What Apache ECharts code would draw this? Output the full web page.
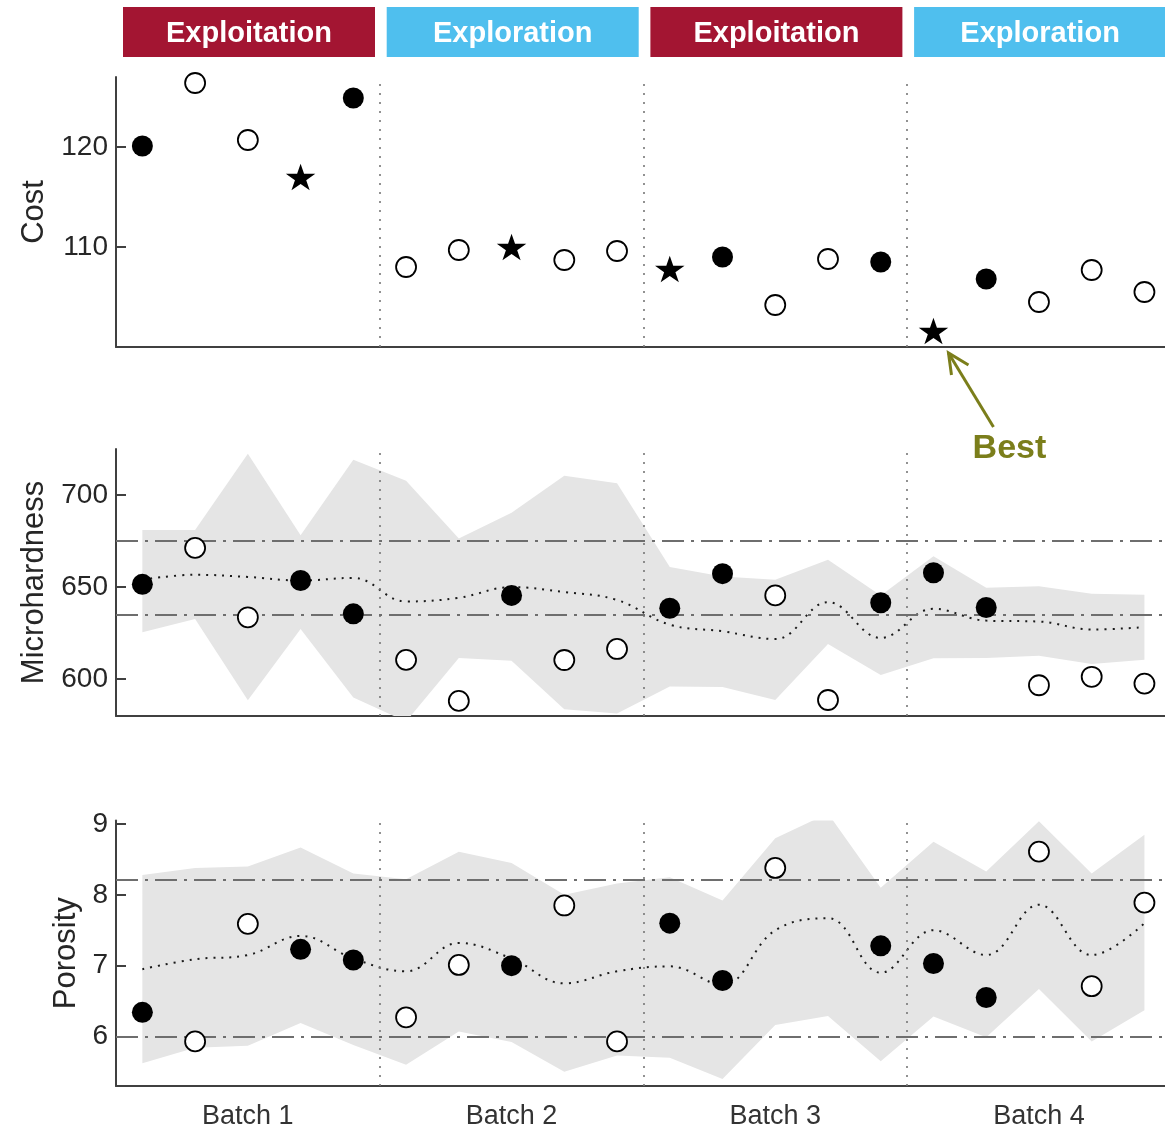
<!DOCTYPE html>
<html><head><meta charset="utf-8">
<script src="https://cdn.jsdelivr.net/npm/echarts@6/dist/echarts.min.js"></script>
<style>html,body{margin:0;padding:0;background:#fff}#c{width:1165px;height:1131px}</style>
</head><body><div id="c"></div>
<script>
// ---------- data ----------
const runIndex = [1,2,3,4,5,6,7,8,9,10,11,12,13,14,15,16,17,18,19,20];
// 'filled' = exploited candidate, 'open' = explored candidate, 'best' = best of batch (star on cost)
const pointKind = ['filled','open','open','best','filled','open','open','best','open','open',
                   'best','filled','open','open','filled','best','filled','open','open','open'];
const costValues = [120.1,126.4,120.7,117.0,124.9, 108.0,109.7,110.0,108.7,109.6,
                    107.8,109.0,104.2,108.8,108.5, 101.6,106.8,104.5,107.7,105.5];
const hardValues = [651.5,671.3,633.6,653.6,635.5, 610.5,588.2,645.5,610.4,616.4,
                    638.5,657.3,645.5,588.7,641.5, 657.8,638.9,596.7,601.3,597.6];
const hardMean  = [654.0,656.7,655.5,653.6,655.0, 642.2,644.2,650.0,647.3,643.0,
                   629.6,626.0,621.8,641.8,622.4, 638.2,631.8,631.3,627.0,628.2];
const hardUpper = [681.0,681.0,722.4,678.2,719.1, 707.8,676.4,690.4,710.5,706.4,
                   660.9,655.8,654.0,664.9,645.5, 666.7,649.6,650.4,646.4,645.8];
const hardLower = [625.5,632.7,588.5,627.3,590.0, 577.0,611.5,610.0,583.6,581.3,
                   596.0,595.8,588.7,619.1,602.2, 611.3,611.5,612.7,608.2,610.5];
const poroValues = [6.34,5.93,7.59,7.23,7.08, 6.27,7.01,7.00,7.85,5.93,
                    7.60,6.79,8.38,null,7.28, 7.03,6.55,8.61,6.71,7.89];
const poroMean  = [6.95,7.09,7.15,7.42,7.10, 6.92,7.32,7.10,6.75,6.92,
                   6.99,6.73,7.50,7.67,6.90, 7.50,7.15,7.86,7.15,7.60];
const poroUpper = [8.28,8.38,8.40,8.67,8.30, 8.22,8.61,8.45,8.00,8.16,
                   8.25,7.92,8.80,9.15,8.10, 8.75,8.33,9.04,8.30,8.85];
const poroLower = [5.62,5.84,5.87,6.19,5.88, 5.60,6.07,5.92,5.50,5.73,
                   5.70,5.40,6.16,6.29,5.65, 6.28,5.99,6.67,5.93,6.37];
const hardLimits = [635, 675];
const poroLimits = [6, 8.22];
const batchDividers = [5.5, 10.5, 15.5];
const batchCenters = [3, 8, 13, 18];
const batchLabels = ['Batch 1','Batch 2','Batch 3','Batch 4'];
const phaseLabels = ['Exploitation','Exploration','Exploitation','Exploration'];
const costTicks = [110, 120];
const hardTicks = [600, 650, 700];
const poroTicks = [6, 7, 8, 9];

// ---------- styling ----------
const FONT = '"Liberation Sans", Arial, Helvetica, sans-serif';
const AX = '#404040';
const TXT = '#262626';
const BAND = '#e5e5e5';
const RED = '#a31532';
const BLUE = '#4fbfee';
const OLIVE = '#7b7e1b';
const STAR = 'path://M0,-10 L2.245,-3.09 L9.511,-3.09 L3.633,1.18 L5.878,8.09 L0,3.82 L-5.878,8.09 L-3.633,1.18 L-9.511,-3.09 L-2.245,-3.09 Z';

const panels = [
  {top: 77,    height: 270,   min: 100, max: 127,  ticks: costTicks, name: 'Cost',         nameGap: 61},
  {top: 449,   height: 267,   min: 580, max: 725,  ticks: hardTicks, name: 'Microhardness', nameGap: 61},
  {top: 820.5, height: 265.5, min: 5.3, max: 9.05, ticks: poroTicks, name: 'Porosity',     nameGap: 31}
];

const grid = panels.map(p => ({left: 116, right: 0, top: p.top, height: p.height}));
const xAxis = panels.map((p, i) => ({
  type: 'value', gridIndex: i, min: 0.5, max: 20.39,
  axisLine: {show: true, onZero: false, lineStyle: {color: AX, width: 2}},
  axisTick: {show: false}, splitLine: {show: false},
  axisLabel: i === 2 ? {
    show: true, customValues: batchCenters, fontSize: 27, color: '#333', fontFamily: FONT, margin: 17,
    formatter: v => batchLabels[batchCenters.indexOf(v)]
  } : {show: false}
}));
const yAxis = panels.map((p, i) => ({
  type: 'value', gridIndex: i, min: p.min, max: p.max,
  name: p.name, nameLocation: 'middle', nameGap: p.nameGap,
  nameTextStyle: {fontSize: 31, color: TXT, fontFamily: FONT},
  axisLine: {show: true, onZero: false, lineStyle: {color: AX, width: 2}},
  axisTick: {show: true, inside: true, length: 10, customValues: p.ticks, lineStyle: {color: AX, width: 2}},
  axisLabel: {show: true, customValues: p.ticks, fontSize: 28, color: TXT, fontFamily: FONT, margin: 8},
  splitLine: {show: false}
}));

const pairs = arr => runIndex.map((x, i) => [x, arr[i]]);
const pick = (arr, kinds) => runIndex.map((x, i) => kinds.includes(pointKind[i]) && arr[i] != null ? [x, arr[i]] : [x, null]);

function bandSeries(gi, lower, upper) {
  return {
    type: 'custom', xAxisIndex: gi, yAxisIndex: gi, silent: true, z: 1,
    data: runIndex.map((x, i) => [x, lower[i], upper[i]]),
    encode: {x: 0, y: [1, 2]},
    renderItem: function (params, api) {
      if (params.dataIndex !== 0) return null;
      const top = runIndex.map((x, i) => api.coord([x, upper[i]]));
      const bot = runIndex.map((x, i) => api.coord([x, lower[i]])).reverse();
      const cs = params.coordSys;
      return {
        type: 'group',
        clipPath: {type: 'rect', shape: {x: cs.x, y: cs.y, width: cs.width, height: cs.height}},
        children: [{type: 'polygon', shape: {points: top.concat(bot)}, style: {fill: BAND, stroke: null}}]
      };
    }
  };
}
function guideSeries(gi, limits) {
  const data = batchDividers.map(v => ({xAxis: v, lineStyle: {type: [2, 7], color: '#777', width: 1.6}}));
  (limits || []).forEach(v => data.push({yAxis: v, lineStyle: {type: [22, 7, 3, 7], color: '#6e6e6e', width: 2}}));
  return {type: 'line', xAxisIndex: gi, yAxisIndex: gi, data: [], silent: true, z: 2,
    markLine: {symbol: 'none', silent: true, animation: false, label: {show: false}, data: data}};
}
function meanSeries(gi, arr) {
  return {type: 'line', xAxisIndex: gi, yAxisIndex: gi, data: pairs(arr), smooth: 0.4,
    showSymbol: false, symbol: 'none', silent: true, z: 3,
    lineStyle: {color: '#1a1a1a', width: 2, type: [2, 6]}};
}
function markerSeries(gi, arr, withStar) {
  const out = [
    {type: 'scatter', xAxisIndex: gi, yAxisIndex: gi, data: pick(arr, ['open']), symbol: 'circle', symbolSize: 20,
     itemStyle: {color: '#fff', borderColor: '#000', borderWidth: 1.8, opacity: 1}, z: 5},
    {type: 'scatter', xAxisIndex: gi, yAxisIndex: gi, data: pick(arr, withStar ? ['filled'] : ['filled', 'best']),
     symbol: 'circle', symbolSize: 21, itemStyle: {color: '#000', opacity: 1}, z: 5}
  ];
  if (withStar) out.push({type: 'scatter', xAxisIndex: gi, yAxisIndex: gi, data: pick(arr, ['best']),
     symbol: STAR, symbolSize: [29.5, 28], symbolKeepAspect: true, itemStyle: {color: '#000', opacity: 1}, z: 5});
  return out;
}

const series = [].concat(
  [guideSeries(0, null)],
  markerSeries(0, costValues, true),
  [bandSeries(1, hardLower, hardUpper), guideSeries(1, hardLimits), meanSeries(1, hardMean)],
  markerSeries(1, hardValues, false),
  [bandSeries(2, poroLower, poroUpper), guideSeries(2, poroLimits), meanSeries(2, poroMean)],
  markerSeries(2, poroValues, false)
);

const chart = echarts.init(document.getElementById('c'), null, {renderer: 'canvas'});
chart.setOption({animation: false, backgroundColor: '#fff', grid, xAxis, yAxis, series});

// header boxes & annotation positioned from the axis scale
const px = v => chart.convertToPixel({xAxisIndex: 0}, v);
const graphic = [];
phaseLabels.forEach((lab, k) => {
  const x0 = px(5 * k + 0.5) + 7;
  graphic.push({type: 'rect', left: x0, top: 7, shape: {width: 252, height: 50},
    style: {fill: k % 2 === 0 ? RED : BLUE}, silent: true});
  graphic.push({type: 'text', x: x0 + 126, y: 34, style: {text: lab, fill: '#fff',
    font: 'bold 29px ' + FONT, textAlign: 'center', textVerticalAlign: 'middle'}, silent: true});
});
const bestIdx = costValues.indexOf(Math.min.apply(null, costValues));
const bp = chart.convertToPixel({xAxisIndex: 0, yAxisIndex: 0}, [runIndex[bestIdx], costValues[bestIdx]]);
const tip = [bp[0] + 15, bp[1] + 22], tail = [bp[0] + 60, bp[1] + 96];
graphic.push({type: 'line', shape: {x1: tail[0], y1: tail[1], x2: tip[0], y2: tip[1]},
  style: {stroke: OLIVE, lineWidth: 3}, silent: true});
graphic.push({type: 'polyline', shape: {points: [[tip[0] + 20, tip[1] + 12], tip, [tip[0] + 3, tip[1] + 22]]},
  style: {stroke: OLIVE, lineWidth: 3, fill: null}, silent: true});
graphic.push({type: 'text', x: bp[0] + 76, y: bp[1] + 118, style: {text: 'Best', fill: OLIVE,
  font: 'bold 34px ' + FONT, textAlign: 'center', textVerticalAlign: 'middle'}, silent: true});
chart.setOption({graphic});
</script></body></html>
